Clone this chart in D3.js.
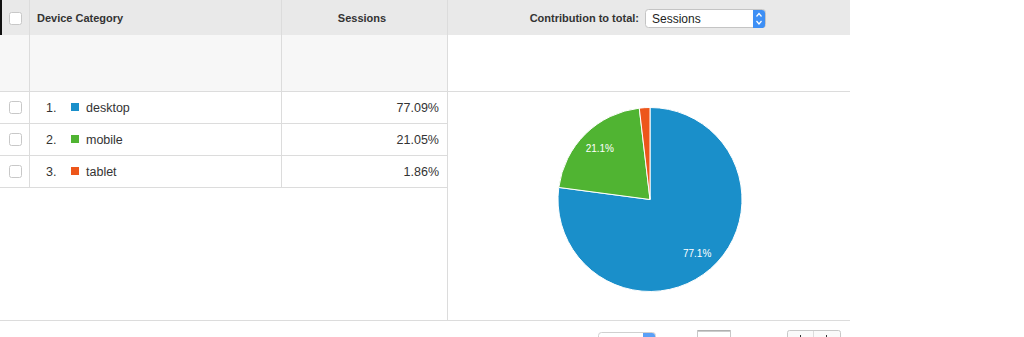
<!DOCTYPE html>
<html><head><meta charset="utf-8">
<script src="https://cdn.jsdelivr.net/npm/d3@7"></script>
<style>
html,body{margin:0;padding:0;background:#fff;}
svg{display:block;font-family:"Liberation Sans",Arial,Helvetica,sans-serif;}
</style></head><body>
<svg id="c" width="1024" height="337"></svg>
<script>
const categories = ["desktop", "mobile", "tablet"];
const sessionsPct = [77.09, 21.05, 1.86];
const columnHeaders = ["Device Category", "Sessions"];
const pieMetric = "Sessions";

const colors = d3.scaleOrdinal().domain(categories).range(["#1a8fca", "#50b432", "#ed561b"]);
const svg = d3.select("#c");
const line = "#dcdcdc";

// header background
svg.append("rect").attr("x",0).attr("y",0).attr("width",850).attr("height",35).attr("fill","#e9e9e9");
svg.append("rect").attr("x",0).attr("y",35).attr("width",447).attr("height",56).attr("fill","#f7f7f7");
svg.append("rect").attr("x",0).attr("y",0).attr("width",2).attr("height",35).attr("fill","#111");

// grid lines
const hl = (x1,x2,y)=>svg.append("line").attr("x1",x1).attr("x2",x2).attr("y1",y+0.5).attr("y2",y+0.5).attr("stroke",line);
const vl = (x,y1,y2)=>svg.append("line").attr("x1",x+0.5).attr("x2",x+0.5).attr("y1",y1).attr("y2",y2).attr("stroke",line);

const rowY = d3.scaleBand().domain(categories).range([91,187]);
hl(0,850,91);
categories.forEach(c=>hl(0,447,rowY(c)+rowY.bandwidth()));
hl(0,850,320);
vl(29,0,187);
vl(281,0,187);
vl(447,0,320);

// checkbox
function checkbox(x,y){
  svg.append("rect").attr("x",x+0.5).attr("y",y+0.5).attr("width",12).attr("height",12).attr("rx",2)
    .attr("fill","#fff").attr("stroke","#c8c8c8");
}
checkbox(9,12);

svg.append("text").attr("x",37).attr("y",22).attr("font-size",11).attr("font-weight","bold").attr("fill","#333").text(columnHeaders[0]);
svg.append("text").attr("x",362).attr("y",22).attr("font-size",11).attr("font-weight","bold").attr("fill","#333").attr("text-anchor","middle").text(columnHeaders[1]);
svg.append("text").attr("x",639).attr("y",22).attr("font-size",11).attr("font-weight","bold").attr("fill","#333").attr("text-anchor","end").text("Contribution to total:");

// select box
svg.append("rect").attr("x",645.5).attr("y",9.5).attr("width",120).attr("height",18).attr("rx",3).attr("fill","#fff").attr("stroke","#c4c4c4");
svg.append("path").attr("d","M753,10 h9 a3,3 0 0 1 3,3 v12 a3,3 0 0 1 -3,3 h-9 z").attr("fill","#3d8ff5");
svg.append("path").attr("d","M756.5,16.5 l2.5,-3 l2.5,3 M756.5,21 l2.5,3 l2.5,-3").attr("fill","none").attr("stroke","#fff").attr("stroke-width",1.2);
svg.append("text").attr("x",652).attr("y",23).attr("font-size",12).attr("fill","#222").text(pieMetric);

// rows
categories.forEach((c,i)=>{
  const y0 = rowY(c), h = rowY.bandwidth(), cy = y0 + h/2;
  checkbox(9, cy-6);
  svg.append("text").attr("x",46).attr("y",cy+4.5).attr("font-size",12.5).attr("fill","#333").text((i+1)+".");
  svg.append("rect").attr("x",71).attr("y",cy-4).attr("width",8).attr("height",8).attr("fill",colors(c));
  svg.append("text").attr("x",86).attr("y",cy+4.5).attr("font-size",12.5).attr("fill","#333").text(c);
  svg.append("text").attr("x",439).attr("y",cy+4.5).attr("font-size",12.5).attr("fill","#333").attr("text-anchor","end").text(d3.format(".2f")(sessionsPct[i])+"%");
});

// pie
const cx = 650, cyP = 199.5, R = 92;
const pie = d3.pie().sort(null).value(d=>d.v);
const data = categories.map((c,i)=>({c, v: sessionsPct[i]}));
const arcs = pie(data);
const arc = d3.arc().innerRadius(0).outerRadius(R);
const labelArc = d3.arc().innerRadius(71.5).outerRadius(71.5);
const g = svg.append("g").attr("transform",`translate(${cx},${cyP})`);
g.selectAll("path").data(arcs).join("path").attr("d",arc).attr("fill",d=>colors(d.data.c)).attr("stroke","#fff").attr("stroke-width",1);
g.selectAll("text").data(arcs.filter(d=>d.data.v>5)).join("text")
  .attr("transform",d=>`translate(${labelArc.centroid(d)})`)
  .attr("text-anchor","middle").attr("dy","0.35em").attr("font-size",10).attr("font-weight","normal").attr("fill","#fff")
  .text(d=>d3.format(".1f")(d.data.v)+"%");

// bottom partial controls
svg.append("rect").attr("x",598.5).attr("y",332.5).attr("width",57).attr("height",12).attr("rx",3).attr("fill","#fff").attr("stroke","#d0d0d0");
svg.append("path").attr("d","M643,333 h9 a3,3 0 0 1 3,3 v3 h-12 z").attr("fill","#5aa0f7");
svg.append("rect").attr("x",697.5).attr("y",330.5).attr("width",33).attr("height",12).attr("fill","#fff").attr("stroke","#c8c8c8");
svg.append("line").attr("x1",698).attr("x2",730).attr("y1",331).attr("y2",331).attr("stroke","#999");
svg.append("rect").attr("x",787.5).attr("y",330.5).attr("width",53).attr("height",12).attr("rx",2).attr("fill","#fafafa").attr("stroke","#c8c8c8");
vl(813,331,337);
svg.append("rect").attr("x",800).attr("y",335).attr("width",1).attr("height",2).attr("fill","#333");
svg.append("rect").attr("x",826).attr("y",335).attr("width",1).attr("height",2).attr("fill","#333");
</script>
</body></html>
